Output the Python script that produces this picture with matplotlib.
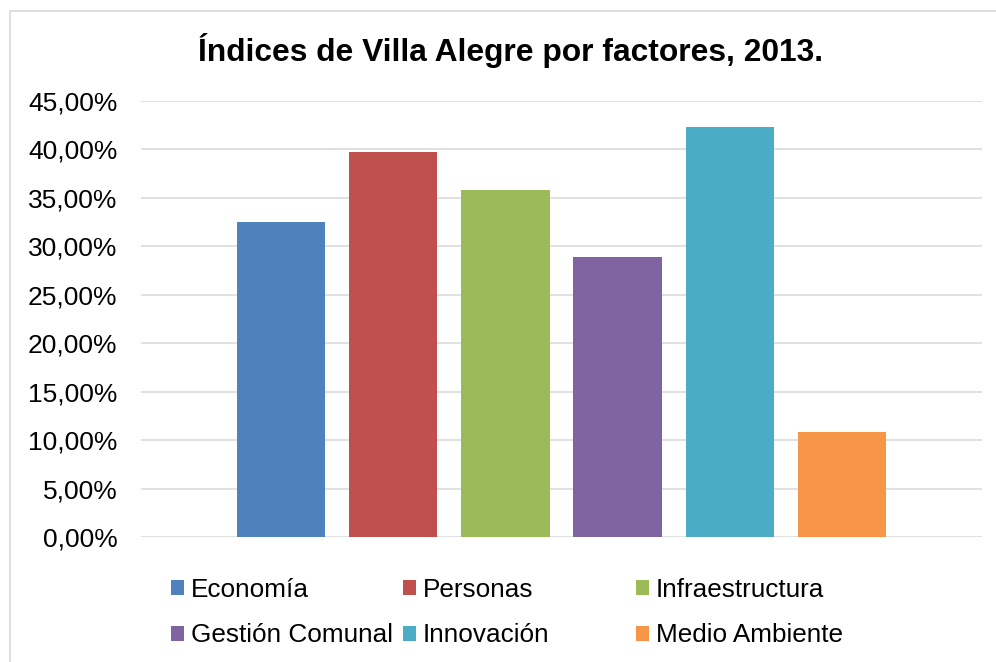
import matplotlib
matplotlib.use('Agg')
import matplotlib.pyplot as plt
from matplotlib.patches import Rectangle
from matplotlib.ticker import FuncFormatter, MultipleLocator

# values
factores = ['Economía', 'Personas', 'Infraestructura',
            'Gestión Comunal', 'Innovación', 'Medio Ambiente']
indices = [0.325, 0.397, 0.358, 0.289, 0.423, 0.108]
colores = ['#4F81BD', '#C0504D', '#9BBB59', '#8064A2', '#4BACC6', '#F79646']
titulo = 'Índices de Villa Alegre por factores, 2013.'

plt.rcParams['font.family'] = ['Liberation Sans', 'DejaVu Sans']

W, H = 996, 662
fig = plt.figure(figsize=(W / 100, H / 100), dpi=100)

# light chart-area border (runs off the right/bottom edge like the source)
fig.patches.append(Rectangle((10 / W, -0.05), 1.2, 1 - 11 / H + 0.05,
                             transform=fig.transFigure, fill=False,
                             edgecolor='#d9d9d9', linewidth=1.2))

ax = fig.add_axes([141 / W, 1 - 537 / H, 841 / W, (537 - 100.7) / H])

bars = []
for i, (name, val, col) in enumerate(zip(factores, indices, colores)):
    b = ax.bar(i, val, width=0.786, color=col, label=name, zorder=3)
    bars.append(b)

ax.set_xlim(-1.25, 6.25)
ax.set_ylim(0, 0.4502)
ax.yaxis.set_major_locator(MultipleLocator(0.05))
ax.yaxis.set_major_formatter(
    FuncFormatter(lambda v, p: f'{v * 100:.2f}'.replace('.', ',') + '%'))
ax.set_xticks([])
ax.tick_params(axis='y', length=0, labelsize=19, pad=17)
ax.grid(axis='y', color='#d9d9d9', linewidth=1.1, zorder=0)
for s in ax.spines.values():
    s.set_visible(False)

fig.text(510 / W, 1 - 61 / H, titulo, ha='center', va='baseline',
         fontsize=22.9, fontweight='bold')

# Excel lays the legend out in equal-width columns, so one legend per column
col_x = [171, 403, 636]
for c, x0 in enumerate(col_x):
    hs = [bars[c][0], bars[c + 3][0]]
    ls = [factores[c], factores[c + 3]]
    fig.legend(hs, ls, loc='upper left',
               bbox_to_anchor=(x0 / W, 1 - 578 / H),
               frameon=False, fontsize=18.8, borderpad=0, borderaxespad=0,
               handlelength=0.5, handleheight=0.5, handletextpad=0.25,
               labelspacing=0.82)

fig.savefig('out.png', dpi=100)
